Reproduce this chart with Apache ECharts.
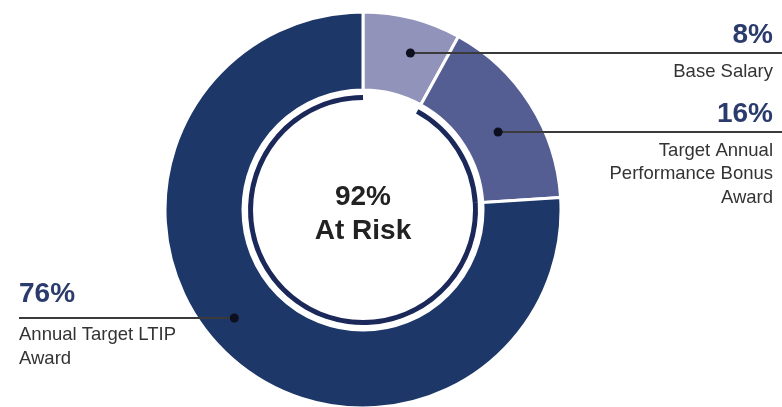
<!DOCTYPE html>
<html>
<head>
<meta charset="utf-8">
<script src="https://cdn.jsdelivr.net/npm/echarts@6/dist/echarts.min.js"></script>
<style>
html,body{margin:0;padding:0;background:#fff;}
#chart{width:782px;height:407px;}
</style>
</head>
<body>
<div id="chart"></div>
<script>
// ---- data ----
const categories = ['Base Salary', 'Target Annual\nPerformance Bonus\nAward', 'Annual Target LTIP\nAward'];
const shares = [8, 16, 76];
const atRiskLabel = 'At Risk';
const atRiskItems = [1, 2]; // indices of the at-risk components

// ---- style / layout ----
const colors = ['#9193ba', '#545e92', '#1e3769'];
const arcColor = '#1b285a';
const CX = 363, CY = 210, R_IN = 120, R_OUT = 198;
// per-label layout: leader line y, dot radius, text anchor
const labelLayout = [
  { lineY: 53,  dotR: 164, side: 'right', pctY: 35,  nameTop: 60,  lh: 24 },
  { lineY: 132, dotR: 156, side: 'right', pctY: 114, nameTop: 139, lh: 23.5 },
  { lineY: 318, dotR: 168, side: 'left',  pctY: 294, nameTop: 323, lh: 24 }
];

const chart = echarts.init(document.getElementById('chart'), null, { renderer: 'canvas' });

const atRisk = atRiskItems.reduce((a, i) => a + shares[i], 0);

const graphics = [];
shares.forEach((v, i) => {
  const L = labelLayout[i];
  const dy = L.lineY - CY;
  const dx = Math.sqrt(Math.max(0, L.dotR * L.dotR - dy * dy)) * (L.side === 'right' ? 1 : -1);
  const dotX = CX + dx;
  const lineEnd = L.side === 'right' ? 782 : 19;
  graphics.push({
    type: 'line', silent: true, z: 10,
    shape: { x1: dotX, y1: L.lineY, x2: lineEnd, y2: L.lineY },
    style: { stroke: '#3a3a3a', lineWidth: 2 }
  });
  graphics.push({
    type: 'circle', silent: true, z: 11,
    shape: { cx: dotX, cy: L.lineY, r: 4.5 },
    style: { fill: '#0d0f1e' }
  });
  const tx = L.side === 'right' ? 773 : 19;
  const al = L.side === 'right' ? 'right' : 'left';
  graphics.push({
    type: 'text', silent: true, z: 10,
    style: {
      text: v + '%', x: tx, y: L.pctY,
      font: 'bold 28px "Liberation Sans", Arial, sans-serif',
      fill: '#2b3c6c', align: al, verticalAlign: 'middle',
      textAlign: al, textVerticalAlign: 'middle'
    }
  });
  graphics.push({
    type: 'text', silent: true, z: 10,
    style: {
      text: categories[i], x: tx, y: L.nameTop,
      font: '18.5px "Liberation Sans", Arial, sans-serif',
      fill: '#333333', align: al, verticalAlign: 'top',
      textAlign: al, textVerticalAlign: 'top', lineHeight: L.lh
    }
  });
});
graphics.push({
  type: 'text', silent: true, z: 10,
  style: {
    text: atRisk + '%\n' + atRiskLabel, x: CX, y: 214,
    font: 'bold 28px "Liberation Sans", Arial, sans-serif',
    fill: '#222', align: 'center', verticalAlign: 'middle',
    textAlign: 'center', textVerticalAlign: 'middle', lineHeight: 34
  }
});

const arcData = shares.map((v, i) => ({
  value: v,
  itemStyle: { color: atRiskItems.includes(i) ? arcColor : 'rgba(0,0,0,0)' }
}));

chart.setOption({
  animation: false,
  backgroundColor: '#ffffff',
  series: [
    {
      type: 'pie',
      center: [CX, CY],
      radius: [R_IN, R_OUT],
      startAngle: 90,
      clockwise: true,
      silent: true,
      label: { show: false },
      labelLine: { show: false },
      itemStyle: { borderColor: '#ffffff', borderWidth: 3 },
      data: shares.map((v, i) => ({ name: categories[i], value: v, itemStyle: { color: colors[i] } }))
    },
    {
      type: 'pie',
      center: [CX, CY],
      radius: [110, 115],
      startAngle: 90,
      clockwise: true,
      silent: true,
      label: { show: false },
      labelLine: { show: false },
      data: arcData
    }
  ],
  graphic: graphics
});
</script>
</body>
</html>
